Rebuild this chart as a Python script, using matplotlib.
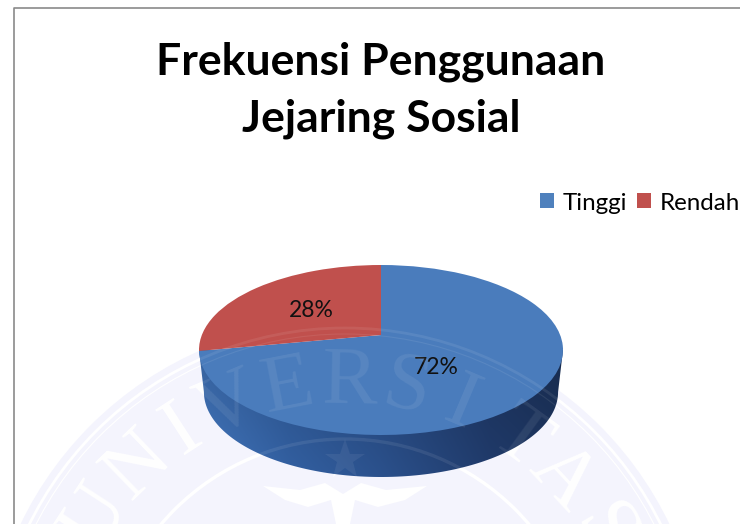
import numpy as np
import matplotlib
matplotlib.use("Agg")
import matplotlib.pyplot as plt
from matplotlib.lines import Line2D
from matplotlib.patches import Circle, Polygon
from matplotlib.transforms import Transform

# Chart data
labels = ["Tinggi", "Rendah"]
values = [72, 28]
colors = ["#4a7cbc", "#c0504d"]
legend_colors = ["#4f81bd", "#c0504d"]
title = "Frekuensi Penggunaan\nJejaring Sosial"
seal_text = "UNIVERSITAS"
seal_angles = [-57, -44, -33, -23, -11, 1, 12, 23, 36, 47, 60]

W, H = 740, 524
plt.rcParams["font.family"] = ["Lato", "DejaVu Sans"]


class Perspective(Transform):
    # moves the pie centre up inside the ellipse, like a tilted 3D pie
    input_dims = output_dims = 2
    is_separable = False
    has_inverse = False

    def __init__(self, b):
        super().__init__()
        self.b = b

    def transform_non_affine(self, values):
        v = np.asarray(values)
        d = 1 + self.b * v[:, 1]
        return np.column_stack([v[:, 0] * np.sqrt(1 - self.b ** 2) / d,
                                (v[:, 1] + self.b) / d])


fig = plt.figure(figsize=(W / 100, H / 100), dpi=100)

# Faint university seal: one layer under the pie, a very light one over it
bg = fig.add_axes([0, 0, 1, 1], zorder=0)
top = fig.add_axes([0, 0, 1, 1], zorder=3)
for a in (bg, top):
    a.set_xlim(0, W)
    a.set_ylim(H, 0)
    a.axis("off")
    a.patch.set_alpha(0)

cx, cy = 345, 680
bg.add_patch(Circle((cx, cy), 360, fc="#f4f4fd", ec="none"))
for a, al in ((bg, 1.0), (top, 0.08)):
    for r, lw in ((352, 2.0), (346, 0.8), (241, 2.4)):
        a.add_patch(Circle((cx, cy), r, fc="none", ec="white", lw=lw, alpha=al))
    for ch, deg in zip(seal_text, seal_angles):
        ang = np.radians(deg)
        a.text(cx + 297 * np.sin(ang), cy - 297 * np.cos(ang), ch, rotation=-deg,
               family="Liberation Serif", fontsize=60, color="white", alpha=al,
               ha="center", va="center", rotation_mode="anchor")
    a.plot([cx], [460], marker="*", ms=30, color="white", alpha=al * 0.8, mew=0)

# Bird emblem at the foot of the seal
bg.add_patch(Polygon([[263, 486], [300, 490], [325, 483], [343, 494], [361, 483], [386, 490], [427, 486],
                      [405, 500], [378, 507], [355, 500], [350, 524], [336, 524], [331, 500], [308, 507],
                      [285, 500]], closed=True, fc="white", ec="none"))

# Pie axes: x spans the ellipse, y runs from the top edge down to the base
ry = 85
depth = 42
ax = fig.add_axes([199 / W, 1 - 477 / H, 364 / W, (477 - 265) / H], zorder=2)
wedges, _, autotexts = ax.pie(values, colors=colors, startangle=90, counterclock=False,
                              autopct="%.0f%%", wedgeprops={"linewidth": 0, "zorder": 3},
                              textprops={"fontsize": 16.5, "color": "#111111", "zorder": 4})
persp = Perspective(15 / ry)
for w in wedges:
    w.set_transform(persp + ax.transData)
autotexts[0].set_position((0.302, -0.2))
autotexts[1].set_position((-0.385, 0.47))

# Side wall, shaded left to right
base_y = -depth / ry
ths = np.linspace(np.pi, 2 * np.pi, 120)
wall = Polygon(np.column_stack([0.973 * np.cos(ths), base_y + np.sin(ths)]).tolist() + [[1, 0], [-1, 0]],
               closed=True, fc="none", ec="none", transform=ax.transData)
ax.add_patch(wall)
gx = np.linspace(-1, 1, 300)
gy = np.linspace(0, 1, 120)
ramp = np.array([[0x3e, 0x6f, 0xb2], [0x2f, 0x59, 0x96], [0x28, 0x4b, 0x82], [0x1e, 0x37, 0x64], [0x1b, 0x31, 0x58]]) / 255
stops = [-1, -0.5, 0, 0.6, 1]
rgb = np.stack([np.interp(gx, stops, ramp[:, k]) for k in range(3)], axis=1)
shade = 0.88 + 0.2 * gy[:, None, None]
img = np.clip(rgb[None, :, :] * shade, 0, 1)
im = ax.imshow(img, extent=(-1, 1, base_y - 1, 0), origin="upper", aspect="auto", zorder=1)
im.set_clip_path(wall)

ax.set_xlim(-1, 1)
ax.set_ylim(base_y - 1, 1)
ax.set_aspect("auto")
ax.axis("off")

# Title, legend, frame
fig.text(381 / W, 1 - 90 / H, title, ha="center", va="center", fontsize=32, fontweight="bold",
         color="black", linespacing=1.5, zorder=5)
handles = [plt.Rectangle((0, 0), 1, 1, fc=c, ec="none") for c in legend_colors]
fig.legend(handles, labels, loc="center left", bbox_to_anchor=(540 / W, 1 - 203 / H), ncol=2, frameon=False,
           fontsize=17.4, handlelength=0.58, handleheight=0.58, handletextpad=0.37, columnspacing=0.4,
           borderpad=0, borderaxespad=0)
fig.add_artist(Line2D([14 / W, 14 / W, 1], [0, 1 - 8 / H, 1 - 8 / H], color="#8a8a8a", lw=1.2))

fig.savefig("out.png", dpi=100)
